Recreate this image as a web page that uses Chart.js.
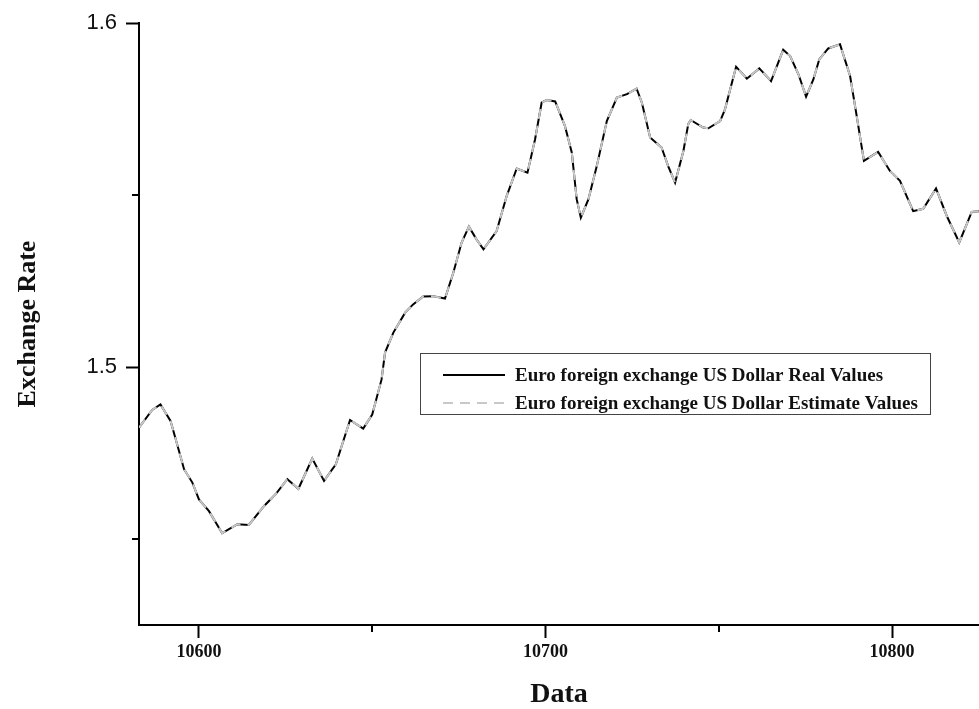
<!DOCTYPE html>
<html>
<head>
<meta charset="utf-8">
<script src="https://cdn.jsdelivr.net/npm/chart.js@4/dist/chart.umd.min.js"></script>
<style>
  body { margin: 0; background: #fff; }
  #wrap { width: 979px; height: 709px; position: relative; }
</style>
</head>
<body>
<div id="wrap"><canvas id="chart"></canvas></div>
<script>
// values
const xValues = [
  10582.7, 10586.5, 10588.9, 10591.8, 10593.3, 10595.7, 10598.1, 10600.0, 10602.9, 10606.7,
  10611.1, 10614.4, 10618.8, 10622.1, 10625.5, 10628.7, 10632.7, 10636.1, 10639.5, 10643.6,
  10647.4, 10650.0, 10652.7, 10653.7, 10656.1, 10659.5, 10661.8, 10664.7, 10667.6, 10671.0,
  10673.4, 10675.8, 10677.9, 10680.1, 10682.1, 10685.9, 10688.8, 10691.7, 10694.8, 10697.0,
  10698.9, 10700.4, 10702.8, 10705.6, 10707.6, 10709.0, 10710.2, 10712.4, 10714.8, 10717.7,
  10720.6, 10723.5, 10726.3, 10727.8, 10730.2, 10733.5, 10735.4, 10737.4, 10739.8, 10741.2,
  10741.9, 10745.5, 10747.0, 10750.4, 10751.8, 10755.0, 10758.1, 10761.7, 10765.1, 10768.6,
  10770.6, 10773.0, 10775.2, 10777.3, 10779.0, 10781.6, 10785.0, 10787.9, 10789.8, 10791.9,
  10796.0, 10799.4, 10802.3, 10806.1, 10809.0, 10812.7, 10815.8, 10819.4, 10823.0, 10825.1,
];

const realValues = [
  1.4824, 1.4875, 1.4891, 1.4843, 1.4790, 1.4703, 1.4664, 1.4615, 1.4581, 1.4517,
  1.4543, 1.4541, 1.4596, 1.4630, 1.4674, 1.4646, 1.4734, 1.4669, 1.4717, 1.4846,
  1.4821, 1.4862, 1.4964, 1.5042, 1.5100, 1.5158, 1.5182, 1.5205, 1.5206, 1.5199,
  1.5274, 1.5362, 1.5408, 1.5371, 1.5342, 1.5395, 1.5497, 1.5577, 1.5565, 1.5662,
  1.5769, 1.5776, 1.5772, 1.5701, 1.5623, 1.5488, 1.5434, 1.5488, 1.5584, 1.5715,
  1.5783, 1.5793, 1.5809, 1.5769, 1.5667, 1.5638, 1.5584, 1.5536, 1.5628, 1.5706,
  1.5718, 1.5696, 1.5694, 1.5715, 1.5749, 1.5873, 1.5838, 1.5868, 1.5831, 1.5922,
  1.5904, 1.5851, 1.5786, 1.5836, 1.5894, 1.5926, 1.5938, 1.5846, 1.5730, 1.5599,
  1.5625, 1.5570, 1.5541, 1.5453, 1.5460, 1.5519, 1.5439, 1.5362, 1.5451, 1.5453,
];

// the estimate line lies on top of the real one everywhere in the picture
const estimateValues = [...realValues];

const seriesLabels = [
  "Euro foreign exchange US Dollar Real Values",
  "Euro foreign exchange US Dollar Estimate Values",
];

const xTicks = [10600, 10650, 10700, 10750, 10800];
const xTickLabels = ["10600", "", "10700", "", "10800"];
const yTicks = [1.45, 1.5, 1.55, 1.6];
const yTickLabels = ["", "1.5", "", "1.6"];

const toPoints = (ys) => ys.map((y, i) => ({ x: xValues[i], y }));

const serif = "'Liberation Serif', 'DejaVu Serif', serif";

// short marks for the unlabelled ticks
const minorTicks = {
  id: "minorTicks",
  afterDraw(chart) {
    const { ctx } = chart;
    const xs = chart.scales.x;
    const ys = chart.scales.y;
    ctx.save();
    ctx.strokeStyle = "#000";
    ctx.lineWidth = 2;
    xTicks.forEach((v, i) => {
      if (xTickLabels[i]) return;
      const px = Math.round(xs.getPixelForValue(v));
      ctx.beginPath();
      ctx.moveTo(px, xs.top);
      ctx.lineTo(px, xs.top + 7);
      ctx.stroke();
    });
    yTicks.forEach((v, i) => {
      if (yTickLabels[i]) return;
      const py = Math.round(ys.getPixelForValue(v));
      ctx.beginPath();
      ctx.moveTo(ys.right, py);
      ctx.lineTo(ys.right - 7, py);
      ctx.stroke();
    });
    ctx.restore();
  },
};

// boxed legend inside the plot
const boxLegend = {
  id: "boxLegend",
  afterDraw(chart) {
    const { ctx } = chart;
    const box = { x: 420.5, y: 353.5, w: 510, h: 61 };
    ctx.save();
    ctx.fillStyle = "#fff";
    ctx.fillRect(box.x, box.y, box.w, box.h);
    ctx.strokeStyle = "#444";
    ctx.lineWidth = 1;
    ctx.strokeRect(box.x, box.y, box.w, box.h);
    ctx.font = "bold 19px " + serif;
    ctx.textBaseline = "middle";
    ctx.fillStyle = "#111";
    chart.data.datasets.forEach((ds, i) => {
      const y = 375 + i * 28;
      ctx.strokeStyle = ds.borderColor;
      ctx.lineWidth = ds.borderWidth;
      ctx.setLineDash(ds.borderDash || []);
      ctx.beginPath();
      ctx.moveTo(443, y);
      ctx.lineTo(505, y);
      ctx.stroke();
      ctx.setLineDash([]);
      ctx.fillText(ds.label, 515, y + 1);
    });
    ctx.restore();
  },
};

new Chart(document.getElementById("chart"), {
  type: "line",
  data: {
    datasets: [
      {
        label: seriesLabels[0],
        data: toPoints(realValues),
        borderColor: "#000",
        borderWidth: 2,
        pointRadius: 0,
        tension: 0,
        order: 1,
      },
      {
        label: seriesLabels[1],
        data: toPoints(estimateValues),
        borderColor: "#c8c8c8",
        borderWidth: 2,
        borderDash: [10, 7],
        pointRadius: 0,
        tension: 0,
        order: 0,
      },
    ],
  },
  options: {
    responsive: true,
    maintainAspectRatio: false,
    animation: false,
    layout: { padding: { top: 23, right: 0, bottom: 0, left: 0 } },
    plugins: {
      legend: { display: false },
      tooltip: { enabled: false },
    },
    scales: {
      x: {
        type: "linear",
        min: 10582.7,
        max: 10825.1,
        afterBuildTicks(scale) {
          scale.ticks = xTicks.map((value) => ({ value }));
        },
        afterFit(scale) {
          scale.height = 84;
        },
        ticks: {
          autoSkip: false,
          maxRotation: 0,
          padding: 4,
          color: "#111",
          font: { family: serif, size: 18, weight: "bold" },
          callback: (v, i) => xTickLabels[i],
        },
        grid: {
          drawOnChartArea: false,
          drawTicks: true,
          tickLength: 13,
          tickWidth: 2,
          tickColor: (c) => (xTickLabels[c.index] ? "#000" : "rgba(0,0,0,0)"),
        },
        border: { display: true, color: "#000", width: 2 },
        title: {
          display: true,
          text: "Data",
          color: "#111",
          font: { family: serif, size: 28, weight: "bold", lineHeight: 1 },
          padding: { top: 0, bottom: 0 },
        },
      },
      y: {
        type: "linear",
        min: 1.425,
        max: 1.6,
        afterBuildTicks(scale) {
          scale.ticks = yTicks.map((value) => ({ value }));
        },
        afterFit(scale) {
          scale.width = 139;
        },
        ticks: {
          padding: 9,
          color: "#111",
          font: { family: "'Liberation Sans', Arial, sans-serif", size: 22 },
          callback: (v, i) => yTickLabels[i],
        },
        grid: {
          drawOnChartArea: false,
          drawTicks: true,
          tickLength: 13,
          tickWidth: 2,
          tickColor: (c) => (yTickLabels[c.index] ? "#000" : "rgba(0,0,0,0)"),
        },
        border: { display: true, color: "#000", width: 2 },
        title: {
          display: true,
          text: "Exchange Rate",
          color: "#111",
          font: { family: serif, size: 26, weight: "bold", lineHeight: 1 },
          padding: { top: 15, bottom: 0 },
        },
      },
    },
  },
  plugins: [minorTicks, boxLegend],
});
</script>
</body>
</html>
